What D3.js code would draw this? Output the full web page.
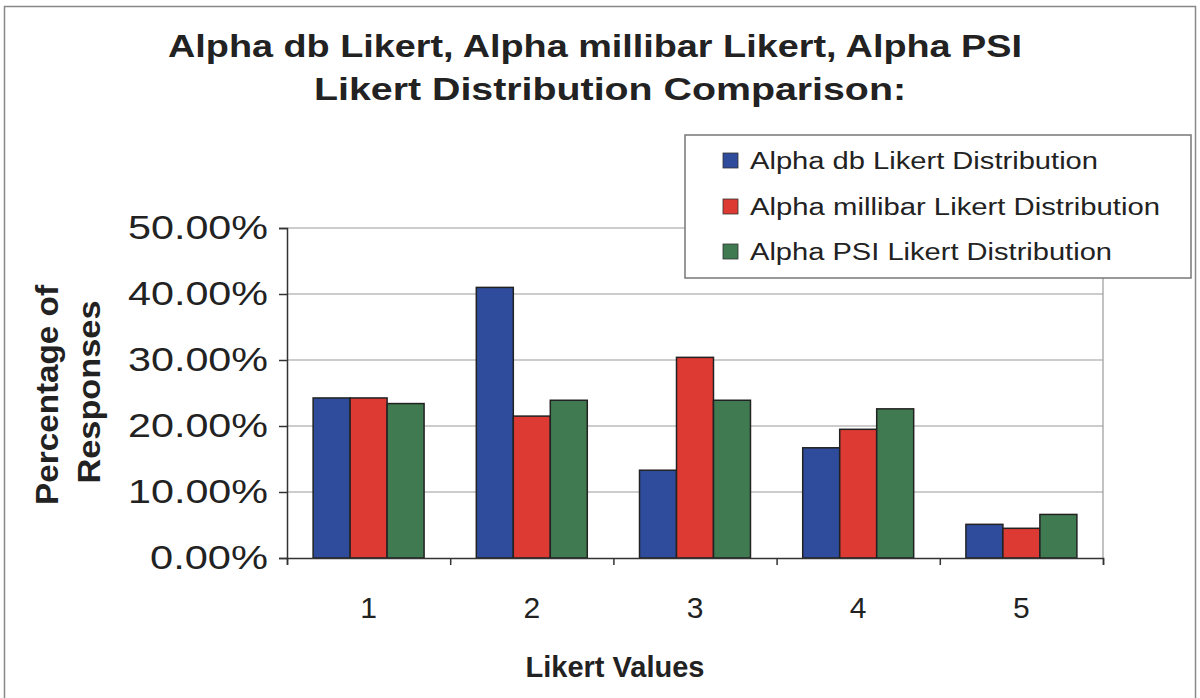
<!DOCTYPE html>
<html>
<head>
<meta charset="utf-8">
<script src="https://cdn.jsdelivr.net/npm/d3@7"></script>
<style>
  body { margin: 0; background: #fff; }
  text { font-family: "Liberation Sans", Arial, sans-serif; fill: #222; }
</style>
</head>
<body>
<div id="chart"></div>
<script>
// data
const categories = ["1", "2", "3", "4", "5"];
const seriesNames = ["Alpha db Likert Distribution", "Alpha millibar Likert Distribution", "Alpha PSI Likert Distribution"];
const dbValues = [0.2425, 0.410, 0.133, 0.167, 0.051];
const millibarValues = [0.2425, 0.215, 0.304, 0.195, 0.045];
const psiValues = [0.234, 0.239, 0.239, 0.226, 0.066];
const yTicks = [0, 0.1, 0.2, 0.3, 0.4, 0.5];
const colors = ["#2f4c9c", "#dc3a32", "#3f7a50"];

const W = 1200, H = 698;
const margin = {top: 228, right: 97, bottom: 140, left: 287};
const width = W - margin.left - margin.right,
      height = H - margin.top - margin.bottom;

const svg = d3.select("#chart").append("svg")
    .attr("width", W)
    .attr("height", H);

// outer frame
svg.append("rect")
    .attr("x", 4.5).attr("y", 6.5)
    .attr("width", 1191).attr("height", 720)
    .attr("fill", "none")
    .attr("stroke", "#888")
    .attr("stroke-width", 1.5);

// title (the original is drawn stretched sideways)
svg.append("text")
    .attr("x", 595).attr("y", 57)
    .attr("text-anchor", "middle")
    .attr("textLength", 854).attr("lengthAdjust", "spacingAndGlyphs")
    .style("font-size", "31px").style("font-weight", "bold")
    .text("Alpha db Likert, Alpha millibar Likert, Alpha PSI");
svg.append("text")
    .attr("x", 610).attr("y", 100)
    .attr("text-anchor", "middle")
    .attr("textLength", 592).attr("lengthAdjust", "spacingAndGlyphs")
    .style("font-size", "31px").style("font-weight", "bold")
    .text("Likert Distribution Comparison:");

const g = svg.append("g")
    .attr("transform", "translate(" + margin.left + "," + margin.top + ")");

let x0 = d3.scaleBand()
    .domain(categories)
    .range([0, width])
    .padding(0);

let x1 = d3.scaleBand()
    .domain(seriesNames)
    .range([x0.bandwidth() * 0.16, x0.bandwidth() * 0.84]);

let y = d3.scaleLinear()
    .domain([0, 0.5])
    .range([height, 0]);

// gridlines
g.selectAll(".grid")
  .data(yTicks.slice(1))
  .enter()
  .append("line")
    .attr("x1", 0).attr("x2", width)
    .attr("y1", d => y(d)).attr("y2", d => y(d))
    .attr("stroke", "#999")
    .attr("stroke-width", 1.2);

// right border of plot
g.append("line")
    .attr("x1", width).attr("x2", width)
    .attr("y1", 0).attr("y2", height)
    .attr("stroke", "#999")
    .attr("stroke-width", 1.2);

const allSeries = [dbValues, millibarValues, psiValues];

allSeries.forEach(function(vals, si) {
    g.append("g")
      .selectAll("rect")
      .data(vals)
      .enter()
      .append("rect")
        .attr("x", (d, i) => x0(categories[i]) + x1(seriesNames[si]))
        .attr("y", d => y(d))
        .attr("width", x1.bandwidth())
        .attr("height", d => height - y(d))
        .attr("fill", colors[si])
        .attr("stroke", "#222")
        .attr("stroke-width", 1.5);
});

// Y axis
let yAxis = g.append("g")
    .call(d3.axisLeft(y).tickValues(yTicks).tickFormat(d3.format(".2%")).tickSize(8).tickPadding(11));
yAxis.select(".domain").attr("stroke", "#333").attr("stroke-width", 1.5);
yAxis.selectAll(".tick line").attr("stroke", "#333").attr("stroke-width", 1.5);
yAxis.selectAll("text")
    .style("font-size", "34px")
    .style("font-family", "Liberation Sans, Arial, sans-serif")
    .attr("fill", "#222")
    .attr("textLength", d => d === 0 ? 118 : 140)
    .attr("lengthAdjust", "spacingAndGlyphs");

// X axis, ticks sit on category boundaries
let x = d3.scaleLinear().domain([0, 5]).range([0, width]);
let xAxis = g.append("g")
    .attr("transform", "translate(0," + height + ")")
    .call(d3.axisBottom(x).ticks(5).tickFormat("").tickSize(7).tickSizeOuter(7));
xAxis.select(".domain").attr("stroke", "#333").attr("stroke-width", 1.5);
xAxis.selectAll(".tick line").attr("stroke", "#333").attr("stroke-width", 1.5);

g.append("g")
  .selectAll("text")
  .data(categories)
  .enter()
  .append("text")
    .attr("x", d => x0(d) + x0.bandwidth() / 2)
    .attr("y", height + 60)
    .attr("text-anchor", "middle")
    .style("font-size", "30px")
    .text(d => d);

// axis titles
svg.append("text")
    .attr("x", 615).attr("y", 677)
    .attr("text-anchor", "middle")
    .style("font-size", "29px").style("font-weight", "bold")
    .text("Likert Values");

svg.append("text")
    .attr("transform", "translate(58,395) rotate(-90)")
    .attr("text-anchor", "middle")
    .attr("textLength", 220).attr("lengthAdjust", "spacingAndGlyphs")
    .style("font-size", "31px").style("font-weight", "bold")
    .text("Percentage of");
svg.append("text")
    .attr("transform", "translate(100,392) rotate(-90)")
    .attr("text-anchor", "middle")
    .attr("textLength", 183).attr("lengthAdjust", "spacingAndGlyphs")
    .style("font-size", "31px").style("font-weight", "bold")
    .text("Responses");

// legend
let legend = svg.append("g");
legend.append("rect")
    .attr("x", 685).attr("y", 135)
    .attr("width", 506).attr("height", 143)
    .attr("fill", "#fff")
    .attr("stroke", "#777")
    .attr("stroke-width", 1.5);

let rows = [160, 206, 251];
let legendWidths = [348, 410, 362];
seriesNames.forEach(function(name, i) {
    legend.append("rect")
        .attr("x", 723).attr("y", rows[i] - 7)
        .attr("width", 15).attr("height", 15)
        .attr("fill", colors[i])
        .attr("stroke", "#333")
        .attr("stroke-width", 0.8);
    legend.append("text")
        .attr("x", 750).attr("y", rows[i] + 9)
        .attr("textLength", legendWidths[i]).attr("lengthAdjust", "spacingAndGlyphs")
        .style("font-size", "23px")
        .text(name);
});
</script>
</body>
</html>
